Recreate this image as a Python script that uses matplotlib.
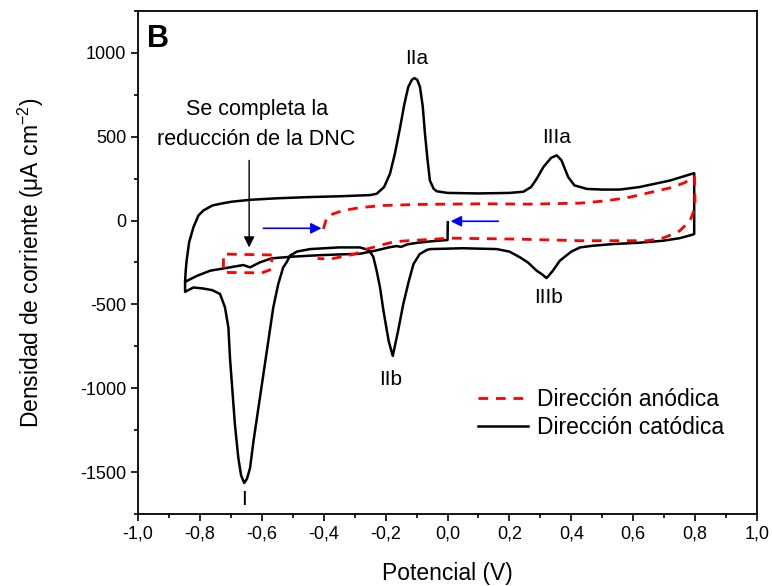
import matplotlib

matplotlib.use("Agg")
import matplotlib.pyplot as plt
import numpy as np
from matplotlib.ticker import FuncFormatter, MultipleLocator

plt.rcParams["font.family"] = ["Liberation Sans", "DejaVu Sans"]
plt.rcParams["mathtext.fontset"] = "custom"
plt.rcParams["mathtext.rm"] = "Liberation Sans"
plt.rcParams["mathtext.default"] = "regular"
plt.rcParams["axes.unicode_minus"] = False

# cathodic-start CV (black): start at 0 V, sweep to -0.85, up to 0.8, back to -0.85
black_v = [
    0.001, 0.0, -0.05, -0.10, -0.13, -0.15, -0.165, -0.19, -0.23, -0.283, -0.35,
    -0.42, -0.50, -0.568, -0.606, -0.638, -0.66, -0.703, -0.767, -0.81, -0.848,
    -0.846, -0.843, -0.835, -0.821, -0.805, -0.789, -0.76, -0.735, -0.70, -0.638,
    -0.55, -0.45, -0.35, -0.25, -0.229, -0.205, -0.186, -0.17, -0.153, -0.14,
    -0.127, -0.115, -0.107, -0.098, -0.089, -0.08, -0.073, -0.065, -0.057, -0.045,
    -0.035, 0.0, 0.1, 0.2, 0.245, 0.27, 0.288, 0.31, 0.335, 0.353, 0.368, 0.39,
    0.41, 0.45, 0.50, 0.557, 0.62, 0.719, 0.797,
    0.797, 0.79, 0.75, 0.697, 0.62, 0.535, 0.47, 0.428, 0.40, 0.363, 0.34, 0.32,
    0.305, 0.288, 0.26, 0.234, 0.20, 0.159, 0.05, -0.056, -0.067, -0.09, -0.11,
    -0.125, -0.143, -0.16, -0.177, -0.19, -0.207, -0.218, -0.229, -0.24, -0.255,
    -0.283, -0.35, -0.444, -0.487, -0.509, -0.52, -0.531, -0.547, -0.563, -0.579,
    -0.595, -0.611, -0.627, -0.638, -0.648, -0.657, -0.667, -0.676, -0.687,
    -0.703, -0.708, -0.719, -0.735, -0.76, -0.79, -0.821, -0.848, -0.848,
]
black_i = [
    -10, -116, -123, -133, -142, -157, -152, -160, -178, -198, -202,
    -207, -215, -225, -249, -279, -265, -279, -299, -330, -365,
    -300, -239, -130, -40, 30, 60, 90, 100, 112, 124,
    133, 140, 145, 152, 160, 200, 279, 400, 558, 690,
    797, 840, 850, 840, 797, 680, 520, 370, 239, 190,
    175, 165, 162, 165, 172, 200, 249, 320, 375, 389, 360, 259,
    210, 189, 185, 185, 200, 239, 283,
    -80, -85, -105, -120, -132, -140, -150, -160, -185, -239, -300, -343,
    -320, -299, -250, -219, -185, -170, -165, -170, -175, -200, -259,
    -360, -498, -660, -807, -720, -538, -400, -299, -215, -175,
    -160, -160, -170, -185, -209, -249, -279, -379, -518, -718,
    -917, -1117, -1316, -1475, -1540, -1565, -1520, -1415, -1216,
    -817, -638, -518, -438, -415, -405, -399, -425, -370,
]

# anodic-start CV (red dashed): start at -0.4 V, up to 0.8, back to -0.72, reverse
red_v = [
    -0.401, -0.39, -0.37, -0.337, -0.28, -0.207, -0.10, 0.0, 0.116, 0.26, 0.428,
    0.514, 0.59, 0.665, 0.719, 0.765, 0.798, 0.800, 0.784, 0.751, 0.73, 0.687,
    0.644, 0.428, 0.212, 0.008, -0.143, -0.175, -0.261, -0.30, -0.38, -0.42,
    np.nan, -0.568, -0.724, -0.724, -0.60, -0.568, -0.568,
]
red_i = [
    -50, 20, 40, 60, 78, 90, 96, 98, 100, 98, 104,
    118, 140, 172, 195, 225, 262, 80, 0, -60, -80, -110,
    -120, -120, -110, -105, -122, -127, -170, -200, -230, -226,
    np.nan, -205, -200, -309, -312, -290, -222,
]

# sweep-direction arrows (blue) and the annotation arrow
blue_arrow_tails = [(-0.595, -46), (0.164, -4)]
blue_arrow_heads = [(-0.407, -46), (0.010, -4)]
note_tail = (-0.641, 359)
note_head = (-0.641, -160)

peak_labels = ["IIa", "IIIa", "IIIb", "IIb", "I"]
peak_label_v = [-0.0995, 0.353, 0.326, -0.185, -0.657]
peak_label_i = [969, 498, -459, -950, -1663]

fig = plt.figure(figsize=(7.72, 5.86), dpi=100)
ax = fig.add_axes([0.1788, 0.1229, 0.8018, 0.8583])

ax.plot(black_v, black_i, color="black", lw=1.8, label="Dirección catódica", zorder=2)
ax.plot(red_v, red_i, color="#ff0000", lw=2.0, dashes=(3.5, 2.8),
        label="Dirección anódica", zorder=3)

for tail, head in zip(blue_arrow_tails, blue_arrow_heads):
    ax.annotate("", xy=head, xytext=tail,
                arrowprops=dict(arrowstyle="-|>", color="#0000ff", lw=1.2,
                                mutation_scale=16, shrinkA=0, shrinkB=0))

ax.annotate("", xy=note_head, xytext=note_tail,
            arrowprops=dict(arrowstyle="-|>", color="black", lw=1.0,
                            mutation_scale=16, shrinkA=0, shrinkB=0))
ax.text(-0.617, 574, "Se completa la\nreducción de la DNC", ha="center",
        va="center", fontsize=15.5, linespacing=1.55)

for name, v, i in zip(peak_labels, peak_label_v, peak_label_i):
    ax.text(v, i, name, ha="center", va="center", fontsize=15)

ax.text(0.015, 0.975, "B", transform=ax.transAxes, ha="left", va="top",
        fontsize=22, fontweight="bold")

ax.set_xlim(-1.0, 1.0)
ax.set_ylim(-1750, 1250)
ax.xaxis.set_major_locator(MultipleLocator(0.2))
ax.xaxis.set_minor_locator(MultipleLocator(0.1))
ax.yaxis.set_major_locator(MultipleLocator(500))
ax.yaxis.set_minor_locator(MultipleLocator(250))
ax.xaxis.set_major_formatter(
    FuncFormatter(lambda v, _: f"{v:.1f}".replace(".", ",").replace("-0,0", "0,0")))
ax.tick_params(which="major", direction="out", length=5, width=1.2, labelsize=13)
ax.tick_params(which="minor", direction="out", length=3, width=1.2)
for spine in ax.spines.values():
    spine.set_linewidth(1.3)

ax.set_xlabel("Potencial (V)", fontsize=16.5)
ax.set_ylabel("Densidad de corriente (μA cm$^{-2}$)", fontsize=16.5)
ax.xaxis.set_label_coords(0.5, -0.095)
ax.yaxis.set_label_coords(-0.148, 0.5)

handles, labels = ax.get_legend_handles_labels()
ax.legend(handles[::-1], labels[::-1], loc="upper left", bbox_to_anchor=(0.549, 0.25),
          frameon=False, fontsize=16.5, handlelength=2.2, handletextpad=0.4,
          labelspacing=0.2, borderpad=0, borderaxespad=0)

fig.savefig("out.png", dpi=100)
